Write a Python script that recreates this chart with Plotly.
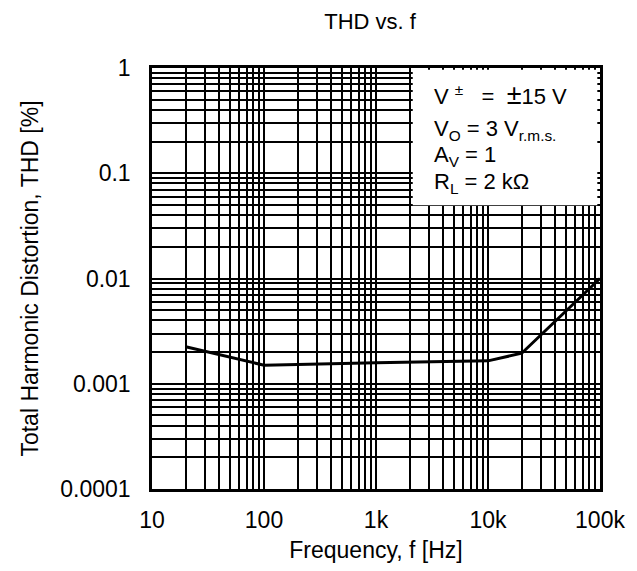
import plotly.graph_objects as go

freq = [20, 100, 1000, 10000, 20000, 100000]
thd = [0.00225, 0.00150, 0.00158, 0.00165, 0.00195, 0.0100]

x_tick_vals = [10, 100, 1000, 10000, 100000]
x_tick_text = ["10", "100", "1k", "10k", "100k"]
y_tick_vals = [0.0001, 0.001, 0.01, 0.1, 1]
y_tick_text = ["0.0001", "0.001", "0.01", "0.1", "1"]

cond_lines = [
    "V&nbsp;<sup>±</sup>&nbsp;&nbsp;&nbsp;=&nbsp;&nbsp;<span style='font-size:27px'>±</span>15&nbsp;V",
    "V<sub>O</sub> = 3 V<sub>r.m.s.</sub>",
    "A<sub>V</sub> = 1",
    "R<sub>L</sub> = 2 kΩ",
]

FONT = "Liberation Sans, Arial, sans-serif"


def log_grid(vals):
    out = []
    for d in vals[:-1]:
        out += [d * k for k in range(1, 10)]
    out.append(vals[-1])
    return out


def labels(grid, vals, texts):
    m = {v: t for v, t in zip(vals, texts)}
    return [m.get(g, "") for g in grid]


xg = log_grid(x_tick_vals)
yg = log_grid(y_tick_vals)

fig = go.Figure()
fig.add_trace(go.Scatter(x=freq, y=thd, mode="lines",
                         line=dict(color="black", width=3), showlegend=False))

axis_common = dict(
    type="log", showgrid=True, gridcolor="black", gridwidth=1.6,
    showline=True, linecolor="black", linewidth=2.5, mirror=True,
    ticks="", zeroline=False,
    tickfont=dict(family=FONT, size=23, color="black"),
    title_font=dict(family=FONT, size=23, color="black"),
)

fig.update_xaxes(**axis_common, range=[1, 5], tickvals=xg,
                 ticktext=labels(xg, x_tick_vals, x_tick_text),
                 ticklabelstandoff=9,
                 title_text="Frequency, f [Hz]", title_standoff=10)
fig.update_yaxes(**axis_common, range=[-4, 0], tickvals=yg,
                 ticktext=labels(yg, y_tick_vals, y_tick_text),
                 ticklabelstandoff=14,
                 title_text="Total Harmonic Distortion, THD [%]", title_standoff=16)

fig.add_shape(type="rect", xref="paper", yref="paper",
              x0=0.582, x1=0.994, y0=0.674, y1=0.996,
              fillcolor="white", line=dict(width=0), layer="above")

ys = [0.936, 0.853, 0.79, 0.726]
for t, yy in zip(cond_lines, ys):
    fig.add_annotation(text=t, xref="paper", yref="paper", x=0.626, y=yy,
                       xanchor="left", yanchor="middle", showarrow=False,
                       font=dict(family=FONT, size=22, color="black"))

fig.update_layout(
    width=637, height=571,
    margin=dict(l=152, r=30, t=68, b=82),
    paper_bgcolor="white", plot_bgcolor="white",
    title=dict(text="THD vs. f", x=0.581, xanchor="center", y=0.963, yanchor="middle",
               font=dict(family=FONT, size=22, color="black")),
)

fig.write_html("out.html")
